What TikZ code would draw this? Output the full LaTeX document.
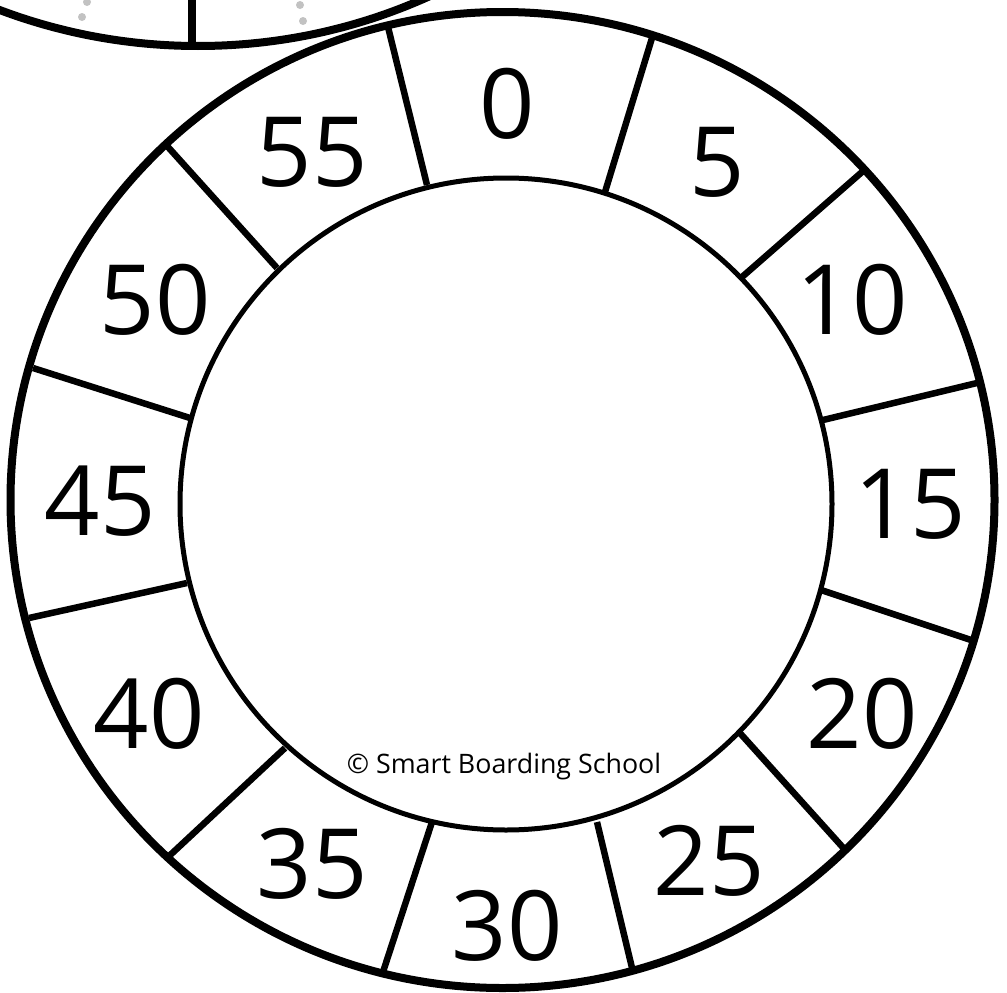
\documentclass[tikz,border=0pt]{standalone}
\usepackage{fontspec}
\setmainfont{Open Sans}
\begin{document}
\begin{tikzpicture}[x=1pt,y=-1pt,
  ring/.style={line width=8pt},
  innerring/.style={line width=5pt},
  divider/.style={line width=6.5pt},
  num/.style={inner sep=0pt, font=\fontsize{97}{97}\selectfont},
  copyr/.style={inner sep=0pt, font=\fontsize{26.8}{27}\selectfont},
  greydot/.style={fill=black!24, draw=none}]
\useasboundingbox (0,0) rectangle (1007,993);
% partial circle at top left
\draw[ring] (198,-516) circle (562pt);
\coordinate (tlA) at (192,-5);
\coordinate (tlB) at (192,44);
\draw[ring] (tlA) -- (tlB);
\fill[greydot] (87,2) circle (4pt);
\fill[greydot] (82,17) circle (4pt);
\fill[greydot] (300,5) circle (4pt);
\fill[greydot] (303,21) circle (4pt);
% divider end points (outer o, inner i)
\coordinate (o1) at (652,38);  \coordinate (i1) at (605,192);
\coordinate (o2) at (862,172); \coordinate (i2) at (742,277);
\coordinate (o3) at (977,383); \coordinate (i3) at (823,420);
\coordinate (o4) at (971,640); \coordinate (i4) at (821,590);
\coordinate (o5) at (847,852); \coordinate (i5) at (739,732);
\coordinate (o6) at (633,972); \coordinate (i6) at (597,822);
\coordinate (o7) at (382,975); \coordinate (i7) at (432,822);
\coordinate (o8) at (167,858); \coordinate (i8) at (285,748);
\coordinate (o9) at (29,618);  \coordinate (i9) at (187,583);
\coordinate (o10) at (33,368); \coordinate (i10) at (190,418);
\coordinate (o11) at (168,147); \coordinate (i11) at (277,268);
\coordinate (o12) at (388,27); \coordinate (i12) at (427,185);
\fill[white] (502.5,500) ellipse [x radius=492pt, y radius=488pt];
\foreach \k in {1,...,12} {\draw[divider] (o\k) -- (i\k);}
\draw[ring] (502.5,500) ellipse [x radius=492pt, y radius=488pt];
\draw[innerring] (506,504) circle (326pt);
% numbers
\node[num] (n0)  at (507,104) {0};
\node[num] (n5)  at (717,162) {5};
\node[num] (n10) at (852,300) {10};
\node[num] (n15) at (910,504) {15};
\node[num] (n20) at (862,714) {20};
\node[num] (n25) at (709,861) {25};
\node[num] (n30) at (507,926) {30};
\node[num] (n35) at (312,864) {35};
\node[num] (n40) at (149,714) {40};
\node[num] (n45) at (100,501) {45};
\node[num] (n50) at (155,300) {50};
\node[num] (n55) at (312,152) {55};
\node[copyr] (cp) at (504,767) {© Smart Boarding School};
\end{tikzpicture}
\end{document}
